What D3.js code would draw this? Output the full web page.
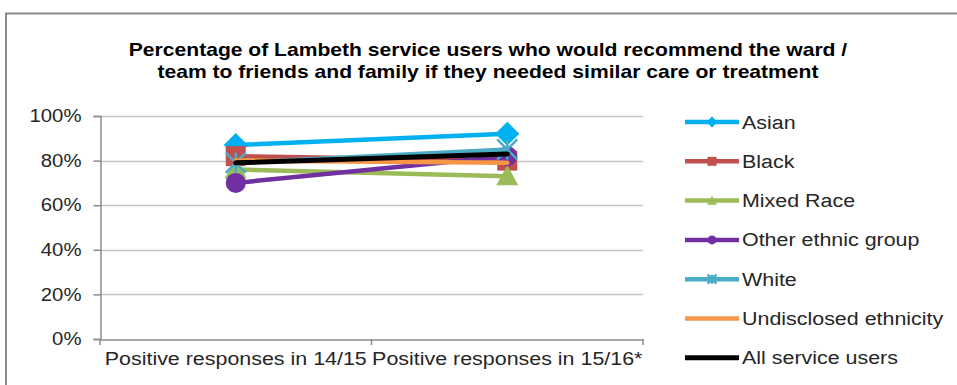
<!DOCTYPE html>
<html>
<head>
<meta charset="utf-8">
<script src="https://cdn.jsdelivr.net/npm/d3@7"></script>
<style>
  body { margin: 0; background: #fff; }
  text { font-family: "Liberation Sans", Arial, sans-serif; fill: #262626; }
</style>
</head>
<body>
<div id="holder"></div>
<script>
// data
var categories = ['Positive responses in 14/15', 'Positive responses in 15/16*'];
var seriesNames = ['Asian', 'Black', 'Mixed Race', 'Other ethnic group', 'White', 'Undisclosed ethnicity', 'All service users'];
var asian = [0.87, 0.92];
var black = [0.82, 0.80];
var mixedRace = [0.76, 0.73];
var otherEthnic = [0.70, 0.82];
var white = [0.79, 0.85];
var undisclosed = [0.80, 0.79];
var allUsers = [0.79, 0.83];
var yTicks = [0, 0.2, 0.4, 0.6, 0.8, 1];
var titleLines = ['Percentage of Lambeth service users who would recommend  the ward /',
                  'team to friends and family  if they needed similar  care or treatment'];

var series = [
  {name: seriesNames[0], values: asian, color: '#00b0f0', marker: 'diamond', width: 4.5},
  {name: seriesNames[1], values: black, color: '#c0504d', marker: 'square', width: 4.5},
  {name: seriesNames[2], values: mixedRace, color: '#9bbb59', marker: 'triangle', width: 4.5},
  {name: seriesNames[3], values: otherEthnic, color: '#7030a0', marker: 'circle', width: 4.5},
  {name: seriesNames[4], values: white, color: '#4bacc6', marker: 'star', width: 4.5},
  {name: seriesNames[5], values: undisclosed, color: '#f79646', marker: null, width: 4.5},
  {name: seriesNames[6], values: allUsers, color: '#000000', marker: null, width: 5}
];

var W = 957, H = 385;
var plotLeft = 100, plotRight = 643, plotTop = 116, plotBottom = 339;

// the source picture is stretched sideways, so widen the text to match
function stretch(sel, factor) {
  sel.each(function() {
    var len = this.getComputedTextLength();
    d3.select(this).attr('textLength', len * factor).attr('lengthAdjust', 'spacingAndGlyphs');
  });
}

var svg = d3.select('#holder').append('svg').attr('width', W).attr('height', H);
svg.append('rect').attr('width', W).attr('height', H).attr('fill', '#fff');

// chart frame
svg.append('rect')
  .attr('x', 6).attr('y', 13.5).attr('width', 1000).attr('height', 500)
  .attr('fill', 'none').attr('stroke', '#8c8c8c').attr('stroke-width', 2);

// title
svg.append('g').selectAll('text').data(titleLines).enter().append('text')
  .attr('x', 488).attr('y', function(d, i) { return 56 + i * 22; })
  .attr('text-anchor', 'middle')
  .style('font-size', '18.5px').style('font-weight', 'bold').style('fill', '#000')
  .text(function(d) { return d; })
  .call(stretch, 1.14);

var x = d3.scaleBand().domain(categories).range([plotLeft, plotRight]).padding(0);
var y = d3.scaleLinear().domain([0, 1]).range([plotBottom, plotTop]);

// gridlines
svg.append('g').selectAll('line').data(yTicks.slice(1)).enter().append('line')
  .attr('x1', plotLeft).attr('x2', plotRight)
  .attr('y1', function(d) { return Math.round(y(d)) + 0.5; })
  .attr('y2', function(d) { return Math.round(y(d)) + 0.5; })
  .attr('stroke', '#c4c4c4').attr('stroke-width', 1.5);

// y axis
var yAxis = svg.append('g').attr('transform', 'translate(' + (plotLeft + 0.5) + ',0)')
  .call(d3.axisLeft(y).tickValues(yTicks).tickFormat(d3.format('.0%')).tickSize(7).tickPadding(12));
yAxis.select('.domain').attr('stroke', '#8c8c8c').attr('stroke-width', 1.5);
yAxis.selectAll('.tick line').attr('stroke', '#8c8c8c').attr('stroke-width', 1.5);
yAxis.selectAll('text').style('font-size', '18px').style('font-family', '"Liberation Sans", Arial, sans-serif')
  .attr('fill', '#262626').call(stretch, 1.13);

// x axis
var xAxis = svg.append('g').attr('transform', 'translate(0,' + (Math.round(plotBottom) + 0.5) + ')')
  .call(d3.axisBottom(x).tickSize(0).tickSizeOuter(0).tickPadding(13));
xAxis.select('.domain').attr('stroke', '#8c8c8c').attr('stroke-width', 1.5);
xAxis.selectAll('text').style('font-size', '18px').style('font-family', '"Liberation Sans", Arial, sans-serif')
  .attr('fill', '#262626').call(stretch, 1.19);
svg.append('g').selectAll('line').data([plotLeft, plotLeft + x.bandwidth(), plotRight]).enter().append('line')
  .attr('x1', function(d) { return d; }).attr('x2', function(d) { return d; })
  .attr('y1', plotBottom).attr('y2', plotBottom + 6)
  .attr('stroke', '#8c8c8c').attr('stroke-width', 1.5);

function cx(i) { return x(categories[i]) + x.bandwidth() / 2; }

function drawMarker(g, type, px, py, color, size) {
  var s = size;
  if (type === 'diamond') {
    g.append('path').attr('d', 'M' + px + ',' + (py - s * 0.6) + 'L' + (px + s * 0.6) + ',' + py + 'L' + px + ',' + (py + s * 0.6) + 'L' + (px - s * 0.6) + ',' + py + 'Z').attr('fill', color);
  } else if (type === 'square') {
    g.append('rect').attr('x', px - s / 2).attr('y', py - s / 2).attr('width', s).attr('height', s).attr('fill', color);
  } else if (type === 'triangle') {
    g.append('path').attr('d', 'M' + px + ',' + (py - s * 0.55) + 'L' + (px + s * 0.55) + ',' + (py + s * 0.45) + 'L' + (px - s * 0.55) + ',' + (py + s * 0.45) + 'Z').attr('fill', color);
  } else if (type === 'circle') {
    g.append('circle').attr('cx', px).attr('cy', py).attr('r', s / 2).attr('fill', color);
  } else if (type === 'star') {
    var r = s / 2;
    g.append('path')
      .attr('d', 'M' + (px - r) + ',' + (py - r) + 'L' + (px + r) + ',' + (py + r) + 'M' + (px + r) + ',' + (py - r) + 'L' + (px - r) + ',' + (py + r) + 'M' + px + ',' + (py - r) + 'L' + px + ',' + (py + r))
      .attr('stroke', color).attr('stroke-width', 2.5).attr('fill', 'none');
  }
}

var line = d3.line().x(function(d, i) { return cx(i); }).y(function(d) { return y(d); });

var plot = svg.append('g');
series.forEach(function(s) {
  var g = plot.append('g');
  g.append('path').attr('d', line(s.values)).attr('fill', 'none')
    .attr('stroke', s.color).attr('stroke-width', s.width).attr('stroke-linecap', 'round');
  if (s.marker) {
    s.values.forEach(function(v, i) { drawMarker(g, s.marker, cx(i), y(v), s.color, 20); });
  }
});

// legend
var legend = svg.append('g');
series.forEach(function(s, i) {
  var ly = 122 + i * 39.3;
  var g = legend.append('g');
  g.append('line').attr('x1', 685).attr('x2', 739).attr('y1', ly).attr('y2', ly)
    .attr('stroke', s.color).attr('stroke-width', s.width);
  if (s.marker) drawMarker(g, s.marker, 712, ly, s.color, 9);
  g.append('text').attr('x', 742).attr('y', ly + 6.5).style('font-size', '18px').text(s.name)
    .call(stretch, 1.19);
});
</script>
</body>
</html>
